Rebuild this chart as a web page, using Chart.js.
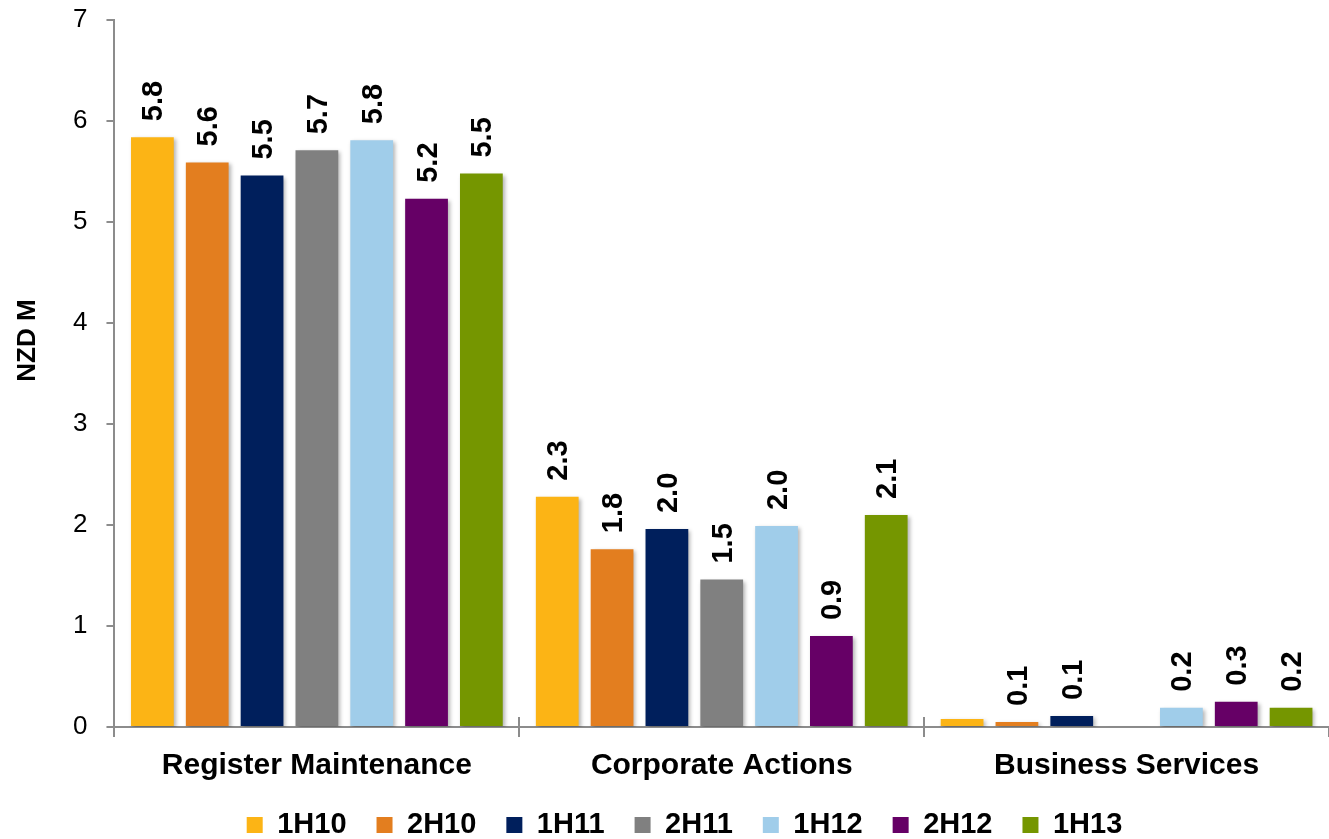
<!DOCTYPE html>
<html>
<head>
<meta charset="utf-8">
<script src="https://cdn.jsdelivr.net/npm/chart.js@4.4.1/dist/chart.umd.min.js"></script>
<style>
  html, body { margin: 0; padding: 0; background: #fff; }
  #wrap { width: 1329px; height: 839px; position: relative; }
</style>
</head>
<body>
<div id="wrap"><canvas id="myChart"></canvas></div>
<script>
const categories = ['Register Maintenance', 'Corporate Actions', 'Business Services'];
const periods = ['1H10', '2H10', '1H11', '2H11', '1H12', '2H12', '1H13'];

// NZD M per period, one value per category
const h1_10 = [5.84, 2.28, 0.08];
const h2_10 = [5.59, 1.76, 0.05];
const h1_11 = [5.46, 1.96, 0.11];
const h2_11 = [5.71, 1.46, -0.02];
const h1_12 = [5.81, 1.99, 0.19];
const h2_12 = [5.23, 0.90, 0.25];
const h1_13 = [5.48, 2.10, 0.19];

const yTicks = [0, 1, 2, 3, 4, 5, 6, 7];
// [period index, category index] of bars left without a value label
const noLabel = [[0, 2], [3, 2]];

const colours = ['#FCB415', '#E37E1F', '#001F5C', '#808080', '#A0CDEA', '#660066', '#759600'];
const series = [h1_10, h2_10, h1_11, h2_11, h1_12, h2_12, h1_13];

const axisGrey = '#8C8C8C';
const fontFamily = '"Liberation Sans", Arial, sans-serif';

const barExtras = {
  id: 'barExtras',
  beforeDatasetsDraw(chart) {
    const c = chart.ctx;
    c.save();
    c.shadowColor = 'rgba(0,0,0,0.3)';
    c.shadowBlur = 4;
    c.shadowOffsetX = 2;
    c.shadowOffsetY = 2;
  },
  afterDatasetsDraw(chart) {
    const c = chart.ctx;
    c.restore();

    // vertical value labels above the bars
    c.save();
    c.font = 'bold 29px ' + fontFamily;
    c.fillStyle = '#000';
    c.textAlign = 'left';
    c.textBaseline = 'middle';
    chart.data.datasets.forEach((ds, i) => {
      chart.getDatasetMeta(i).data.forEach((bar, j) => {
        if (noLabel.some(s => s[0] === i && s[1] === j)) return;
        c.save();
        c.translate(bar.x + 2, bar.y - 16);
        c.rotate(-Math.PI / 2);
        c.fillText(ds.data[j].toFixed(1), 0, 0);
        c.restore();
      });
    });
    c.restore();
  },
  afterDraw(chart) {
    const c = chart.ctx;
    const x = chart.scales.x;
    const area = chart.chartArea;
    c.save();
    // category separators also poke up above the axis line
    c.strokeStyle = axisGrey;
    c.lineWidth = 2;
    const step = (x.right - x.left) / categories.length;
    for (let i = 0; i < categories.length; i++) {
      const px = Math.round(x.left + i * step);
      c.beginPath();
      c.moveTo(px, area.bottom - 10);
      c.lineTo(px, area.bottom);
      c.stroke();
    }
    // y axis title
    c.font = 'bold 26px ' + fontFamily;
    c.fillStyle = '#000';
    c.textAlign = 'center';
    c.textBaseline = 'middle';
    c.translate(28, (area.top + area.bottom) / 2 - 33);
    c.rotate(-Math.PI / 2);
    c.fillText('NZD M', 0, 0);
    c.restore();
  }
};

const ctx = document.getElementById('myChart').getContext('2d');
const myChart = new Chart(ctx, {
  type: 'bar',
  data: {
    labels: categories,
    datasets: periods.map((p, i) => ({
      label: p,
      data: series[i],
      backgroundColor: colours[i],
      borderWidth: 0,
      categoryPercentage: 0.948,
      barPercentage: 0.78
    }))
  },
  options: {
    responsive: true,
    maintainAspectRatio: false,
    animation: false,
    layout: { padding: { left: 40, right: 0, top: 20, bottom: -10.5 } },
    plugins: {
      legend: {
        position: 'bottom',
        labels: {
          boxWidth: 16,
          boxHeight: 16,
          padding: 30,
          color: '#000',
          font: { family: fontFamily, size: 29, weight: 'bold' }
        }
      },
      tooltip: { enabled: false }
    },
    scales: {
      x: {
        afterFit(scale) { scale.height -= 14.5; },
        grid: { display: true, drawOnChartArea: false, tickLength: 10, color: axisGrey, lineWidth: 2, offset: true },
        border: { color: axisGrey, width: 2 },
        ticks: { color: '#000', padding: 8, font: { family: fontFamily, size: 30, weight: 'bold', lineHeight: 1.4 } }
      },
      y: {
        min: 0,
        max: 7,
        afterBuildTicks(scale) { scale.ticks = yTicks.map(v => ({ value: v })); },
        afterFit(scale) { scale.width += 14; },
        grid: { drawOnChartArea: false, tickLength: 8, color: axisGrey, lineWidth: 2 },
        border: { color: axisGrey, width: 2 },
        ticks: { color: '#000', padding: 19, font: { family: fontFamily, size: 26, lineHeight: 0.05 } }
      }
    }
  },
  plugins: [barExtras]
});
</script>
</body>
</html>
